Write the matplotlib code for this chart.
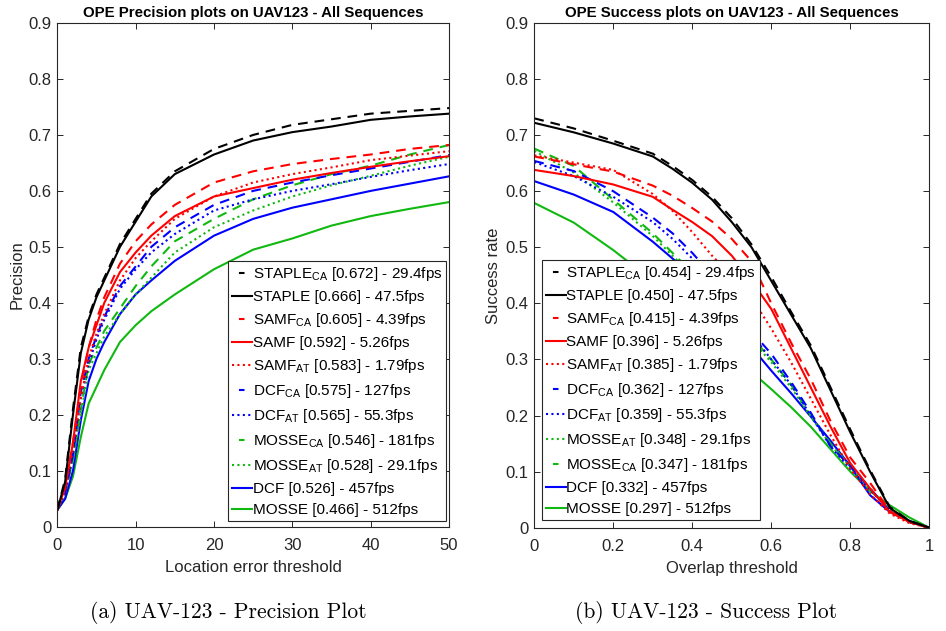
import matplotlib
matplotlib.use("Agg")
import matplotlib.pyplot as plt
from matplotlib.lines import Line2D

plt.rcParams['font.family'] = ['Liberation Sans', 'DejaVu Sans']
plt.rcParams['mathtext.fontset'] = 'custom'
plt.rcParams['mathtext.rm'] = 'Liberation Sans'
plt.rcParams['lines.scale_dashes'] = False

# ---- data ----
prec_x = [0, 1, 2, 3, 4, 5, 6, 8, 10, 12, 15, 20, 25, 30, 35, 40, 45, 50]
succ_x = [0, 0.1, 0.2, 0.3, 0.35, 0.4, 0.45, 0.5, 0.55, 0.6, 0.65, 0.7, 0.75, 0.8, 0.85, 0.9, 0.95, 1.0]

prec = {
    'STAPLE_CA': [0.03, 0.085, 0.21, 0.32, 0.375, 0.415, 0.445, 0.505, 0.55, 0.595, 0.635, 0.675, 0.70, 0.718, 0.728, 0.738, 0.743, 0.748],
    'STAPLE':    [0.03, 0.08, 0.20, 0.31, 0.37, 0.41, 0.44, 0.50, 0.545, 0.59, 0.63, 0.665, 0.69, 0.705, 0.715, 0.727, 0.733, 0.738],
    'SAMF_CA':   [0.03, 0.07, 0.15, 0.25, 0.32, 0.37, 0.41, 0.47, 0.51, 0.54, 0.575, 0.615, 0.635, 0.648, 0.657, 0.665, 0.675, 0.682],
    'SAMF':      [0.03, 0.07, 0.15, 0.26, 0.32, 0.36, 0.40, 0.455, 0.49, 0.52, 0.555, 0.59, 0.605, 0.62, 0.632, 0.643, 0.653, 0.662],
    'SAMF_AT':   [0.03, 0.065, 0.14, 0.23, 0.30, 0.345, 0.38, 0.44, 0.48, 0.51, 0.55, 0.59, 0.615, 0.63, 0.642, 0.655, 0.663, 0.671],
    'DCF_CA':    [0.03, 0.06, 0.13, 0.24, 0.30, 0.34, 0.375, 0.43, 0.465, 0.50, 0.535, 0.575, 0.60, 0.615, 0.628, 0.64, 0.652, 0.664],
    'DCF_AT':    [0.03, 0.06, 0.13, 0.23, 0.29, 0.335, 0.37, 0.425, 0.46, 0.49, 0.523, 0.565, 0.585, 0.60, 0.612, 0.625, 0.637, 0.648],
    'MOSSE_CA':  [0.03, 0.06, 0.12, 0.21, 0.29, 0.32, 0.35, 0.39, 0.43, 0.465, 0.51, 0.55, 0.585, 0.61, 0.63, 0.645, 0.665, 0.682],
    'MOSSE_AT':  [0.03, 0.06, 0.12, 0.20, 0.28, 0.31, 0.34, 0.38, 0.415, 0.445, 0.49, 0.535, 0.565, 0.59, 0.61, 0.627, 0.645, 0.661],
    'DCF':       [0.03, 0.05, 0.10, 0.19, 0.26, 0.30, 0.33, 0.38, 0.415, 0.44, 0.475, 0.52, 0.55, 0.57, 0.585, 0.60, 0.613, 0.626],
    'MOSSE':     [0.03, 0.05, 0.09, 0.16, 0.22, 0.25, 0.28, 0.33, 0.36, 0.385, 0.415, 0.46, 0.495, 0.515, 0.538, 0.555, 0.568, 0.58],
}

succ = {
    'STAPLE_CA': [0.73, 0.712, 0.69, 0.667, 0.645, 0.62, 0.59, 0.552, 0.505, 0.447, 0.385, 0.325, 0.25, 0.175, 0.103, 0.037, 0.012, 0.0],
    'STAPLE':    [0.722, 0.705, 0.685, 0.662, 0.64, 0.615, 0.585, 0.545, 0.50, 0.44, 0.38, 0.32, 0.245, 0.17, 0.10, 0.035, 0.012, 0.0],
    'SAMF_CA':   [0.662, 0.648, 0.635, 0.61, 0.592, 0.57, 0.546, 0.515, 0.475, 0.40, 0.33, 0.265, 0.19, 0.125, 0.08, 0.03, 0.01, 0.0],
    'SAMF':      [0.638, 0.627, 0.612, 0.59, 0.567, 0.545, 0.52, 0.485, 0.44, 0.39, 0.32, 0.25, 0.18, 0.115, 0.07, 0.028, 0.01, 0.0],
    'SAMF_AT':   [0.664, 0.651, 0.638, 0.595, 0.565, 0.527, 0.485, 0.45, 0.41, 0.355, 0.295, 0.23, 0.165, 0.105, 0.06, 0.025, 0.008, 0.0],
    'DCF_CA':    [0.654, 0.636, 0.60, 0.553, 0.525, 0.49, 0.45, 0.405, 0.35, 0.31, 0.26, 0.205, 0.145, 0.11, 0.07, 0.03, 0.01, 0.0],
    'DCF_AT':    [0.652, 0.627, 0.59, 0.545, 0.515, 0.48, 0.44, 0.40, 0.345, 0.30, 0.255, 0.20, 0.145, 0.105, 0.068, 0.03, 0.01, 0.0],
    'MOSSE_CA':  [0.676, 0.645, 0.585, 0.525, 0.49, 0.455, 0.42, 0.38, 0.34, 0.30, 0.255, 0.20, 0.15, 0.11, 0.07, 0.03, 0.01, 0.0],
    'MOSSE_AT':  [0.672, 0.633, 0.58, 0.52, 0.485, 0.45, 0.415, 0.375, 0.335, 0.295, 0.25, 0.198, 0.148, 0.108, 0.068, 0.03, 0.01, 0.0],
    'DCF':       [0.618, 0.594, 0.563, 0.51, 0.48, 0.45, 0.41, 0.37, 0.322, 0.28, 0.24, 0.198, 0.155, 0.11, 0.058, 0.028, 0.012, 0.0],
    'MOSSE':     [0.579, 0.544, 0.495, 0.44, 0.41, 0.38, 0.345, 0.31, 0.278, 0.247, 0.215, 0.18, 0.14, 0.10, 0.065, 0.04, 0.018, 0.0],
}

names = {'STAPLE_CA': r'STAPLE$_\mathregular{CA}$', 'STAPLE': 'STAPLE',
         'SAMF_CA': r'SAMF$_\mathregular{CA}$', 'SAMF': 'SAMF', 'SAMF_AT': r'SAMF$_\mathregular{AT}$',
         'DCF_CA': r'DCF$_\mathregular{CA}$', 'DCF_AT': r'DCF$_\mathregular{AT}$',
         'MOSSE_CA': r'MOSSE$_\mathregular{CA}$', 'MOSSE_AT': r'MOSSE$_\mathregular{AT}$',
         'DCF': 'DCF', 'MOSSE': 'MOSSE'}
fps = {'STAPLE_CA': '29.4', 'STAPLE': '47.5', 'SAMF_CA': '4.39', 'SAMF': '5.26', 'SAMF_AT': '1.79',
       'DCF_CA': '127', 'DCF_AT': '55.3', 'MOSSE_CA': '181', 'MOSSE_AT': '29.1', 'DCF': '457', 'MOSSE': '512'}
prec_score = {'STAPLE_CA': 0.672, 'STAPLE': 0.666, 'SAMF_CA': 0.605, 'SAMF': 0.592, 'SAMF_AT': 0.583,
              'DCF_CA': 0.575, 'DCF_AT': 0.565, 'MOSSE_CA': 0.546, 'MOSSE_AT': 0.528, 'DCF': 0.526, 'MOSSE': 0.466}
succ_score = {'STAPLE_CA': 0.454, 'STAPLE': 0.450, 'SAMF_CA': 0.415, 'SAMF': 0.396, 'SAMF_AT': 0.385,
              'DCF_CA': 0.362, 'DCF_AT': 0.359, 'MOSSE_AT': 0.348, 'MOSSE_CA': 0.347, 'DCF': 0.332, 'MOSSE': 0.297}
prec_order = ['STAPLE_CA', 'STAPLE', 'SAMF_CA', 'SAMF', 'SAMF_AT', 'DCF_CA', 'DCF_AT', 'MOSSE_CA', 'MOSSE_AT', 'DCF', 'MOSSE']
succ_order = ['STAPLE_CA', 'STAPLE', 'SAMF_CA', 'SAMF', 'SAMF_AT', 'DCF_CA', 'DCF_AT', 'MOSSE_AT', 'MOSSE_CA', 'DCF', 'MOSSE']

# ---- styles ----
BLACK, RED, BLUE, GREEN = '#000000', '#FF0000', '#0000FF', '#10B810'
def style(key):
    col = {'STAPLE': BLACK, 'SAMF': RED, 'DCF': BLUE, 'MOSSE': GREEN}[key.split('_')[0]]
    if key.endswith('_CA'):
        return col, (0, (7, 5))
    if key.endswith('_AT'):
        return col, (0, (1.5, 2.4))
    return col, '-'

def legend_ls(key):
    col, ls = style(key)
    if key.endswith('_CA'):
        ls = (29, (4, 30))   # single short dash, like the MATLAB legend
    return col, ls

SPINE = '#262626'
W, H = 946, 631
fig = plt.figure(figsize=(W / 100, H / 100), dpi=100)
ax1 = fig.add_axes([57.3 / W, (H - 526.7) / H, 391.7 / W, 503.7 / H])
ax2 = fig.add_axes([534.3 / W, (H - 527.7) / H, 395 / W, 504.7 / H])

def draw(ax, x, data, scores, order, title, xlabel, ylabel, xlim, xticks, xtl, leg_xy):
    for key in order[::-1]:
        col, ls = style(key)
        ax.plot(x, data[key], color=col, ls=ls, lw=1.5)
    ax.set_xlim(*xlim)
    ax.set_ylim(0, 0.9)
    ax.set_xticks(xticks)
    ax.set_xticklabels(xtl)
    ax.set_yticks([i / 10 for i in range(10)])
    ax.set_yticklabels(['0'] + ['0.%d' % i for i in range(1, 10)])
    ax.tick_params(direction='in', length=4, width=0.7, top=True, right=True,
                   labelsize=12, colors=SPINE, labelcolor='#262626')
    ax.tick_params(axis='x', pad=8)
    ax.tick_params(axis='y', pad=4)
    for s in ax.spines.values():
        s.set_color(SPINE)
        s.set_linewidth(0.8)
    ax.set_title(title, fontsize=10.8, fontweight='bold', pad=4)
    ax.set_xlabel(xlabel, fontsize=12, color='#262626', labelpad=5)
    ax.set_ylabel(ylabel, fontsize=12, color='#262626', labelpad=3)
    handles = []
    for key in order:
        col, ls = legend_ls(key)
        handles.append(Line2D([], [], color=col, ls=ls, lw=1.5,
                              label='%s [%.3f] - %sfps' % (names[key], scores[key], fps[key])))
    leg = ax.legend(handles=handles, loc='lower left', bbox_to_anchor=leg_xy,
                    borderaxespad=0, fontsize=11, handlelength=1.3, handletextpad=0.05,
                    labelspacing=0.46, borderpad=0.25, fancybox=False, framealpha=1,
                    edgecolor=SPINE)
    leg.get_frame().set_linewidth(0.8)

draw(ax1, prec_x, prec, prec_score, prec_order, 'OPE Precision plots on UAV123 - All Sequences',
     'Location error threshold', 'Precision', (0, 50), [0, 10, 20, 30, 40, 50],
     ['0', '10', '20', '30', '40', '50'], (0.436, 0.011))
draw(ax2, succ_x, succ, succ_score, succ_order, 'OPE Success plots on UAV123 - All Sequences',
     'Overlap threshold', 'Success rate', (0, 1), [0, 0.2, 0.4, 0.6, 0.8, 1],
     ['0', '0.2', '0.4', '0.6', '0.8', '1'], (0.0195, 0.015))

fig.text(228 / W, 1 - 613 / H, '(a) UAV-123 - Precision Plot', family='cmr10',
         fontsize=15.5, ha='center', va='center')
fig.text(706 / W, 1 - 613 / H, '(b) UAV-123 - Success Plot', family='cmr10',
         fontsize=15.5, ha='center', va='center')

fig.savefig('out.png', dpi=100, facecolor='white')
